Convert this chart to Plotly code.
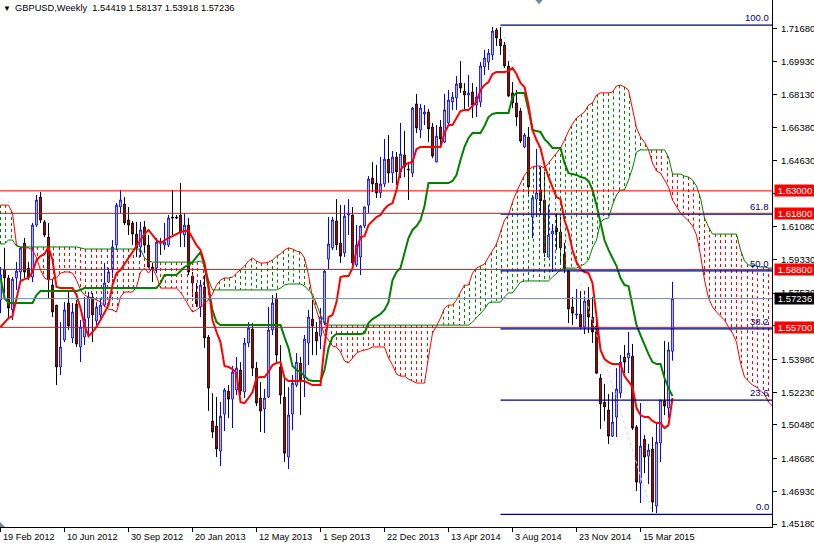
import numpy as np
import pandas as pd
import plotly.graph_objects as go

# weekly GBPUSD bars
opens = [1.5716, 1.5877, 1.5834, 1.5663, 1.5834, 1.5866, 1.6021, 1.5887, 1.5839, 1.6117,
         1.6267, 1.6133, 1.6053, 1.5796, 1.5689, 1.5358, 1.5502, 1.5700, 1.5513, 1.5695,
         1.5465, 1.5518, 1.5620, 1.5732, 1.5604, 1.5636, 1.5689, 1.5812, 1.5877, 1.6010,
         1.6214, 1.6230, 1.6144, 1.6128, 1.6069, 1.6000, 1.6107, 1.6010, 1.5893, 1.5887,
         1.6026, 1.6010, 1.6010, 1.6160, 1.6160, 1.6171, 1.6064, 1.6117, 1.5844, 1.5759,
         1.5679, 1.5786, 1.5518, 1.5069, 1.5042, 1.4908, 1.5106, 1.5229, 1.5186, 1.5235,
         1.5342, 1.5224, 1.5486, 1.5561, 1.5352, 1.5192, 1.5133, 1.5197, 1.5556, 1.5727,
         1.5358, 1.5197, 1.4876, 1.5106, 1.5261, 1.5379, 1.5299, 1.5486, 1.5614, 1.5545,
         1.5523, 1.5593, 1.5935, 1.5995, 1.6139, 1.6021, 1.5968, 1.6171, 1.6171, 1.5903,
         1.5946, 1.6112, 1.6224, 1.6369, 1.6342, 1.6289, 1.6337, 1.6470, 1.6395, 1.6481,
         1.6401, 1.6492, 1.6417, 1.6395, 1.6765, 1.6626, 1.6711, 1.6722, 1.6642, 1.6454,
         1.6642, 1.6561, 1.6663, 1.6775, 1.6797, 1.6877, 1.6834, 1.6813, 1.6829, 1.6759,
         1.6775, 1.6963, 1.6989, 1.7027, 1.7161, 1.7112, 1.7080, 1.6968, 1.6824, 1.6770,
         1.6727, 1.6535, 1.6588, 1.6160, 1.6256, 1.6305, 1.6251, 1.5946, 1.6069, 1.6101,
         1.6080, 1.5962, 1.5871, 1.5679, 1.5636, 1.5641, 1.5572, 1.5716, 1.5625, 1.5577,
         1.5299, 1.5170, 1.5128, 1.4988, 1.5090, 1.5218, 1.5411, 1.5406, 1.5416, 1.5037,
         1.4737, 1.4972, 1.4881, 1.4919, 1.4614, 1.4951, 1.5176, 1.5138, 1.54419]
highs = [1.5893, 1.5995, 1.5850, 1.5839, 1.5919, 1.6000, 1.6048, 1.5919, 1.6128, 1.6278,
         1.6294, 1.6144, 1.6128, 1.5828, 1.5689, 1.5598, 1.5705, 1.5770, 1.5700, 1.5716,
         1.5609, 1.5732, 1.5759, 1.5754, 1.5705, 1.5727, 1.5914, 1.5887, 1.6037, 1.6235,
         1.6305, 1.6267, 1.6214, 1.6139, 1.6133, 1.6133, 1.6139, 1.6064, 1.5914, 1.6048,
         1.6048, 1.6128, 1.6171, 1.6305, 1.6171, 1.6342, 1.6181, 1.6155, 1.5866, 1.5807,
         1.5823, 1.5850, 1.5529, 1.5218, 1.5197, 1.5170, 1.5245, 1.5261, 1.5363, 1.5411,
         1.5384, 1.5513, 1.5598, 1.5593, 1.5384, 1.5277, 1.5240, 1.5679, 1.5743, 1.5754,
         1.5475, 1.5293, 1.5250, 1.5315, 1.5432, 1.5411, 1.5529, 1.5663, 1.5716, 1.5598,
         1.5673, 1.5877, 1.6160, 1.6160, 1.6256, 1.6224, 1.6224, 1.6256, 1.6214, 1.6117,
         1.6117, 1.6214, 1.6379, 1.6454, 1.6438, 1.6481, 1.6577, 1.6599, 1.6513, 1.6508,
         1.6663, 1.6620, 1.6449, 1.6749, 1.6818, 1.6765, 1.6759, 1.6738, 1.6663, 1.6652,
         1.6679, 1.6818, 1.6840, 1.6829, 1.6914, 1.6995, 1.6877, 1.6920, 1.6877, 1.6856,
         1.6989, 1.7054, 1.7059, 1.7177, 1.7171, 1.7177, 1.7096, 1.6995, 1.6882, 1.6840,
         1.6743, 1.6609, 1.6642, 1.6278, 1.6524, 1.6428, 1.6401, 1.6224, 1.6123, 1.6181,
         1.6171, 1.6021, 1.5877, 1.5732, 1.5775, 1.5764, 1.5764, 1.5786, 1.5732, 1.5609,
         1.5320, 1.5267, 1.5213, 1.5224, 1.5352, 1.5422, 1.5475, 1.5545, 1.5481, 1.5047,
         1.5165, 1.4994, 1.4946, 1.4983, 1.5058, 1.5181, 1.5497, 1.5491, 1.58137]
lows = [1.5646, 1.5754, 1.5620, 1.5609, 1.5770, 1.5807, 1.5834, 1.5823, 1.5812, 1.6107,
        1.6128, 1.6053, 1.5727, 1.5625, 1.5261, 1.5315, 1.5491, 1.5556, 1.5486, 1.5465,
        1.5384, 1.5475, 1.5518, 1.5491, 1.5582, 1.5620, 1.5679, 1.5807, 1.5834, 1.5984,
        1.6181, 1.6117, 1.6064, 1.6010, 1.5946, 1.5946, 1.5968, 1.5887, 1.5812, 1.5860,
        1.5957, 1.5984, 1.6000, 1.6064, 1.6150, 1.6000, 1.6000, 1.5850, 1.5732, 1.5679,
        1.5625, 1.5459, 1.5122, 1.4978, 1.4876, 1.4828, 1.5015, 1.5085, 1.5031, 1.5208,
        1.5208, 1.5192, 1.5465, 1.5309, 1.5149, 1.5010, 1.5005, 1.5192, 1.5529, 1.5379,
        1.5160, 1.4849, 1.4812, 1.5021, 1.5250, 1.5101, 1.5197, 1.5368, 1.5422, 1.5422,
        1.5454, 1.5582, 1.5882, 1.5984, 1.5984, 1.5914, 1.5946, 1.6064, 1.5903, 1.5893,
        1.5850, 1.6101, 1.6181, 1.6294, 1.6262, 1.6262, 1.6321, 1.6342, 1.6342, 1.6331,
        1.6369, 1.6374, 1.6251, 1.6374, 1.6609, 1.6583, 1.6652, 1.6561, 1.6476, 1.6454,
        1.6545, 1.6556, 1.6652, 1.6733, 1.6733, 1.6824, 1.6733, 1.6749, 1.6690, 1.6695,
        1.6749, 1.6920, 1.6947, 1.7000, 1.7075, 1.7027, 1.6957, 1.6802, 1.6743, 1.6647,
        1.6556, 1.6529, 1.6267, 1.6048, 1.6160, 1.6171, 1.5946, 1.5946, 1.5866, 1.5984,
        1.5914, 1.5860, 1.5593, 1.5582, 1.5614, 1.5561, 1.5534, 1.5539, 1.5486, 1.5320,
        1.5026, 1.5069, 1.4946, 1.4983, 1.4983, 1.5192, 1.5325, 1.5325, 1.5021, 1.4694,
        1.4630, 1.4790, 1.4732, 1.4582, 1.4576, 1.4849, 1.5101, 1.5085, 1.53918]
closes = [1.5850, 1.5834, 1.5673, 1.5828, 1.5871, 1.5995, 1.5866, 1.5839, 1.6117, 1.6251,
          1.6144, 1.6064, 1.5828, 1.5652, 1.5358, 1.5465, 1.5663, 1.5577, 1.5652, 1.5481,
          1.5572, 1.5614, 1.5732, 1.5636, 1.5679, 1.5689, 1.5807, 1.5866, 1.6000, 1.6224,
          1.6251, 1.6128, 1.6117, 1.6069, 1.5995, 1.6091, 1.6010, 1.5893, 1.5882, 1.6026,
          1.6021, 1.6026, 1.6155, 1.6155, 1.6155, 1.6075, 1.6117, 1.5866, 1.5807, 1.5695,
          1.5796, 1.5513, 1.5245, 1.5010, 1.4919, 1.5095, 1.5235, 1.5186, 1.5331, 1.5352,
          1.5229, 1.5486, 1.5566, 1.5352, 1.5165, 1.5122, 1.5192, 1.5556, 1.5700, 1.5422,
          1.5208, 1.4897, 1.5101, 1.5272, 1.5384, 1.5288, 1.5507, 1.5625, 1.5577, 1.5497,
          1.5625, 1.5871, 1.6016, 1.6144, 1.6010, 1.5951, 1.6165, 1.6181, 1.5914, 1.6010,
          1.6112, 1.6214, 1.6363, 1.6337, 1.6289, 1.6337, 1.6470, 1.6395, 1.6481, 1.6401,
          1.6497, 1.6428, 1.6412, 1.6743, 1.6636, 1.6743, 1.6722, 1.6631, 1.6486, 1.6593,
          1.6577, 1.6733, 1.6786, 1.6802, 1.6872, 1.6850, 1.6813, 1.6824, 1.6759, 1.6802,
          1.6968, 1.7011, 1.7037, 1.7155, 1.7118, 1.7075, 1.6968, 1.6807, 1.6770, 1.6695,
          1.6567, 1.6599, 1.6321, 1.6262, 1.6289, 1.6246, 1.5968, 1.6064, 1.6085, 1.6080,
          1.5995, 1.5882, 1.5668, 1.5646, 1.5641, 1.5572, 1.5711, 1.5625, 1.5545, 1.5325,
          1.5160, 1.5144, 1.4988, 1.5063, 1.5240, 1.5384, 1.5384, 1.5432, 1.5031, 1.4742,
          1.4935, 1.4876, 1.4914, 1.4635, 1.4956, 1.5181, 1.5149, 1.5449, 1.57236]

tenkan = [1.5572, 1.5598, 1.5620, 1.5630, 1.5727, 1.5818, 1.5828, 1.5834, 1.5866, 1.5930,
          1.5951, 1.5962, 1.6000, 1.5930, 1.5786, 1.5780, 1.5780, 1.5780, 1.5780, 1.5743,
          1.5673, 1.5582, 1.5523, 1.5545, 1.5572, 1.5609, 1.5646, 1.5689, 1.5796, 1.5860,
          1.5877, 1.5909, 1.5941, 1.5968, 1.6000, 1.6037, 1.6069, 1.6091, 1.6064, 1.6037,
          1.6021, 1.6037, 1.6048, 1.6058, 1.6069, 1.6080, 1.6085, 1.6085, 1.6048, 1.6010,
          1.5984, 1.5914, 1.5796, 1.5609, 1.5545, 1.5491, 1.5363, 1.5358, 1.5347, 1.5325,
          1.5170, 1.5165, 1.5192, 1.5224, 1.5299, 1.5304, 1.5304, 1.5331, 1.5368, 1.5379,
          1.5384, 1.5299, 1.5283, 1.5283, 1.5283, 1.5283, 1.5283, 1.5272, 1.5261, 1.5261,
          1.5261, 1.5475, 1.5625, 1.5636, 1.5705, 1.5839, 1.5844, 1.5844, 1.5887, 1.5984,
          1.6053, 1.6058, 1.6117, 1.6139, 1.6160, 1.6171, 1.6203, 1.6224, 1.6235, 1.6305,
          1.6412, 1.6438, 1.6449, 1.6454, 1.6524, 1.6535, 1.6535, 1.6535, 1.6535, 1.6535,
          1.6535, 1.6609, 1.6652, 1.6652, 1.6690, 1.6727, 1.6733, 1.6733, 1.6754, 1.6775,
          1.6840, 1.6866, 1.6882, 1.6925, 1.6936, 1.6936, 1.6936, 1.6941, 1.6957, 1.6925,
          1.6877, 1.6856, 1.6759, 1.6626, 1.6572, 1.6529, 1.6438, 1.6374, 1.6321, 1.6267,
          1.6256, 1.6144, 1.6080, 1.5984, 1.5919, 1.5882, 1.5866, 1.5860, 1.5807, 1.5636,
          1.5449, 1.5400, 1.5384, 1.5374, 1.5374, 1.5374, 1.5309, 1.5277, 1.5251, 1.5138,
          1.5101, 1.5090, 1.5090, 1.5069, 1.5058, 1.5058, 1.5031, 1.5047, 1.5192]
kijun = [1.5839, 1.5727, 1.5700, 1.5700, 1.5700, 1.5700, 1.5700, 1.5700, 1.5700, 1.5743,
         1.5764, 1.5764, 1.5764, 1.5764, 1.5764, 1.5764, 1.5764, 1.5764, 1.5764, 1.5764,
         1.5770, 1.5780, 1.5780, 1.5780, 1.5780, 1.5780, 1.5780, 1.5780, 1.5780, 1.5780,
         1.5780, 1.5780, 1.5780, 1.5780, 1.5780, 1.5780, 1.5780, 1.5780, 1.5780, 1.5780,
         1.5807, 1.5850, 1.5850, 1.5850, 1.5850, 1.5871, 1.5893, 1.5903, 1.5919, 1.5946,
         1.5973, 1.5898, 1.5780, 1.5663, 1.5598, 1.5582, 1.5582, 1.5582, 1.5582, 1.5582,
         1.5582, 1.5582, 1.5582, 1.5582, 1.5582, 1.5582, 1.5582, 1.5582, 1.5582, 1.5582,
         1.5582, 1.5518, 1.5459, 1.5363, 1.5342, 1.5331, 1.5309, 1.5288, 1.5283, 1.5283,
         1.5283, 1.5342, 1.5459, 1.5518, 1.5534, 1.5534, 1.5534, 1.5534, 1.5534, 1.5534,
         1.5534, 1.5539, 1.5593, 1.5614, 1.5630, 1.5641, 1.5663, 1.5705, 1.5823, 1.5866,
         1.5887, 1.5973, 1.6048, 1.6091, 1.6112, 1.6144, 1.6219, 1.6342, 1.6342, 1.6342,
         1.6342, 1.6342, 1.6342, 1.6353, 1.6385, 1.6465, 1.6535, 1.6583, 1.6609, 1.6609,
         1.6609, 1.6647, 1.6695, 1.6711, 1.6716, 1.6716, 1.6716, 1.6716, 1.6802, 1.6824,
         1.6824, 1.6824, 1.6733, 1.6626, 1.6620, 1.6615, 1.6577, 1.6556, 1.6529, 1.6529,
         1.6529, 1.6449, 1.6395, 1.6390, 1.6385, 1.6374, 1.6369, 1.6353, 1.6305, 1.6224,
         1.6128, 1.6037, 1.5984, 1.5941, 1.5898, 1.5834, 1.5796, 1.5791, 1.5689, 1.5582,
         1.5529, 1.5475, 1.5427, 1.5384, 1.5374, 1.5374, 1.5299, 1.5245, 1.5202]
span_a = [1.6224, 1.6224, 1.6224, 1.6181, 1.6010, 1.6000, 1.5995, 1.5995, 1.5984, 1.5941,
          1.5877, 1.5834, 1.5823, 1.5828, 1.5834, 1.5860, 1.5866, 1.5866, 1.5860, 1.5823,
          1.5770, 1.5743, 1.5732, 1.5727, 1.5716, 1.5705, 1.5684, 1.5668, 1.5663, 1.5652,
          1.5732, 1.5759, 1.5759, 1.5759, 1.5786, 1.5866, 1.5887, 1.5860, 1.5887, 1.5844,
          1.5780, 1.5780, 1.5780, 1.5780, 1.5780, 1.5759, 1.5721, 1.5684, 1.5652, 1.5663,
          1.5679, 1.5695, 1.5716, 1.5748, 1.5796, 1.5823, 1.5834, 1.5834, 1.5839, 1.5860,
          1.5877, 1.5898, 1.5925, 1.5941, 1.5925, 1.5914, 1.5914, 1.5919, 1.5930, 1.5951,
          1.5962, 1.5984, 1.5995, 1.5989, 1.5978, 1.5973, 1.5941, 1.5850, 1.5727, 1.5663,
          1.5593, 1.5529, 1.5502, 1.5470, 1.5465, 1.5438, 1.5390, 1.5379, 1.5406, 1.5432,
          1.5443, 1.5449, 1.5454, 1.5465, 1.5465, 1.5465, 1.5465, 1.5406, 1.5368, 1.5320,
          1.5309, 1.5309, 1.5293, 1.5283, 1.5272, 1.5272, 1.5272, 1.5411, 1.5539, 1.5577,
          1.5620, 1.5673, 1.5689, 1.5689, 1.5716, 1.5759, 1.5796, 1.5796, 1.5860, 1.5887,
          1.5898, 1.5909, 1.5946, 1.5978, 1.6016, 1.6080, 1.6144, 1.6171, 1.6240, 1.6294,
          1.6342, 1.6385, 1.6412, 1.6428, 1.6433, 1.6433, 1.6422, 1.6449, 1.6481, 1.6502,
          1.6529, 1.6572, 1.6620, 1.6658, 1.6690, 1.6706, 1.6722, 1.6759, 1.6770, 1.6813,
          1.6824, 1.6824, 1.6824, 1.6829, 1.6861, 1.6866, 1.6856, 1.6840, 1.6733, 1.6636,
          1.6588, 1.6561, 1.6519, 1.6449, 1.6406, 1.6395, 1.6358, 1.6321, 1.6251, 1.6214,
          1.6181, 1.6160, 1.6139, 1.6112, 1.6064, 1.5957, 1.5823, 1.5727, 1.5679, 1.5652,
          1.5630, 1.5609, 1.5572, 1.5539, 1.5491, 1.5379, 1.5304, 1.5283, 1.5261, 1.5251,
          1.5229, 1.5213, 1.5170, 1.5149]
span_b = [1.6016, 1.6016, 1.6037, 1.6037, 1.6005, 1.6000, 1.6000, 1.6000, 1.6000, 1.6000,
          1.6000, 1.6000, 1.6000, 1.6000, 1.6000, 1.6000, 1.6000, 1.6000, 1.6000, 1.6000,
          1.5995, 1.5989, 1.5989, 1.5989, 1.5989, 1.5989, 1.5989, 1.5989, 1.5989, 1.5989,
          1.5989, 1.5989, 1.5989, 1.5989, 1.5989, 1.5989, 1.5941, 1.5925, 1.5919, 1.5919,
          1.5919, 1.5919, 1.5919, 1.5919, 1.5919, 1.5919, 1.5919, 1.5919, 1.5919, 1.5919,
          1.5925, 1.5903, 1.5823, 1.5770, 1.5770, 1.5770, 1.5770, 1.5770, 1.5770, 1.5770,
          1.5770, 1.5770, 1.5770, 1.5770, 1.5770, 1.5770, 1.5770, 1.5770, 1.5770, 1.5770,
          1.5780, 1.5796, 1.5802, 1.5802, 1.5802, 1.5802, 1.5791, 1.5770, 1.5748, 1.5695,
          1.5636, 1.5598, 1.5582, 1.5582, 1.5582, 1.5582, 1.5582, 1.5582, 1.5582, 1.5582,
          1.5582, 1.5582, 1.5582, 1.5582, 1.5582, 1.5582, 1.5582, 1.5582, 1.5582, 1.5582,
          1.5582, 1.5582, 1.5582, 1.5582, 1.5582, 1.5582, 1.5582, 1.5582, 1.5582, 1.5582,
          1.5582, 1.5582, 1.5582, 1.5582, 1.5582, 1.5582, 1.5582, 1.5582, 1.5598, 1.5620,
          1.5641, 1.5668, 1.5700, 1.5705, 1.5705, 1.5705, 1.5732, 1.5754, 1.5754, 1.5786,
          1.5812, 1.5818, 1.5818, 1.5818, 1.5818, 1.5818, 1.5818, 1.5818, 1.5839, 1.5860,
          1.5877, 1.5887, 1.5887, 1.5887, 1.5887, 1.5898, 1.5909, 1.5930, 1.5995, 1.6037,
          1.6133, 1.6149, 1.6155, 1.6224, 1.6278, 1.6305, 1.6305, 1.6358, 1.6422, 1.6508,
          1.6519, 1.6519, 1.6519, 1.6519, 1.6519, 1.6519, 1.6519, 1.6481, 1.6390, 1.6390,
          1.6390, 1.6379, 1.6374, 1.6358, 1.6326, 1.6262, 1.6155, 1.6107, 1.6069, 1.6069,
          1.6069, 1.6069, 1.6069, 1.6069, 1.6069, 1.5984, 1.5925, 1.5903, 1.5903, 1.5898,
          1.5893, 1.5893, 1.5887, 1.5887]

axis_prices = [1.7168, 1.6993, 1.6813, 1.6638, 1.6463, 1.6288, 1.6108, 1.5933, 1.5753,
               1.5578, 1.5398, 1.5223, 1.5048, 1.4868, 1.4693, 1.4518]
support_levels = [1.6300, 1.6180, 1.5880, 1.5570]
last_price = 1.57236
fib_names = ["100.0", "61.8", "50.0", "38.2", "23.6", "0.0"]
fib_prices = [1.7187, 1.6175, 1.5872, 1.5562, 1.5181, 1.4569]
date_labels = ["19 Feb 2012", "10 Jun 2012", "30 Sep 2012", "20 Jan 2013", "12 May 2013",
               "1 Sep 2013", "22 Dec 2013", "13 Apr 2014", "3 Aug 2014", "23 Nov 2014",
               "15 Mar 2015"]

FONT = "Liberation Sans"
NAVY = "#000080"
PX_PER_BAR = 4
week = pd.Timedelta(days=7)
dates = pd.date_range("2012-02-19", periods=len(span_a), freq="7D")
tick_dates = pd.to_datetime(date_labels, format="%d %b %Y")
fib_start = dates[125]
fib_end = dates[163]


def hatch(wanted_above):
    # dashed columns between the spans, about 16/3 px apart like the terminal draws them
    xs, ys = [], []
    bars = np.arange(len(span_a))
    for k in range(146):
        bar = round(k * 16 / 3) / PX_PER_BAR
        a = float(np.interp(bar, bars, span_a))
        b = float(np.interp(bar, bars, span_b))
        if (a > b) == wanted_above:
            day = dates[0] + week * bar
            xs += [day, day, None]
            ys += [max(a, b), min(a, b), None]
    return xs, ys


fig = go.Figure()

for colour, above in (("#008000", True), ("#ff0000", False)):
    hx, hy = hatch(above)
    fig.add_trace(go.Scatter(x=hx, y=hy, mode="lines", hoverinfo="skip",
                             line={"color": colour, "width": 1, "dash": "3px,3px"}))

fig.add_trace(go.Scatter(x=dates, y=span_a, mode="lines", line={"color": "#ff0000", "width": 1}))
fig.add_trace(go.Scatter(x=dates, y=span_b, mode="lines", line={"color": "#008000", "width": 1}))
fig.add_trace(go.Scatter(x=[fib_start, fib_end], y=[fib_prices[0], fib_prices[-1]], mode="lines",
                         line={"color": "#e8d2dc", "width": 1, "dash": "dot"}))

fig.add_trace(go.Candlestick(
    x=dates[:len(opens)], open=opens, high=highs, low=lows, close=closes,
    whiskerwidth=0,
    increasing={"line": {"color": "#0000ff", "width": 1}, "fillcolor": "#ffffff"},
    decreasing={"line": {"color": "#000000", "width": 1}, "fillcolor": "#ff0000"},
))

fig.add_trace(go.Scatter(x=dates[:len(kijun)], y=kijun, mode="lines", line={"color": "#008000", "width": 2}))
fig.add_trace(go.Scatter(x=dates[:len(tenkan)], y=tenkan, mode="lines", line={"color": "#ff0000", "width": 2}))

# fibonacci levels, then the hand drawn price lines on top
for price in fib_prices:
    fig.add_shape(type="line", xref="x", yref="y", x0=fib_start, x1=dates[-1] + week, y0=price, y1=price,
                  line={"color": NAVY, "width": 1.2})
for price in support_levels:
    fig.add_shape(type="line", xref="paper", yref="y", x0=0, x1=1, y0=price, y1=price,
                  line={"color": "#ff0000", "width": 1})
fig.add_shape(type="line", xref="paper", yref="y", x0=0, x1=1, y0=last_price, y1=last_price,
              line={"color": "#778899", "width": 1})

# little grey chart markers
fig.add_shape(type="path", xref="paper", yref="paper", fillcolor="#778899", line={"width": 0},
              path="M 0.6935 1 L 0.7030 1 L 0.6983 0.992 Z")
fig.add_shape(type="path", xref="paper", yref="paper", fillcolor="#778899", line={"width": 0},
              path="M 0 0 L 0.0065 0 L 0 0.0095 Z")

annotations = []
for name, price in zip(fib_names, fib_prices):
    annotations.append({"x": 1, "xref": "paper", "y": price, "yref": "y", "text": name, "showarrow": False,
                        "xanchor": "right", "yanchor": "bottom", "xshift": -1, "yshift": 0,
                        "font": {"family": FONT, "size": 9.5, "color": NAVY}})
for price in support_levels + [last_price]:
    text = f"{price:.5f}"
    annotations.append({"x": 1, "xref": "paper", "y": price, "yref": "y", "text": text, "showarrow": False,
                        "xanchor": "left", "yanchor": "middle", "xshift": 2, "width": 40, "height": 11,
                        "borderpad": 0, "bgcolor": "#000000" if price == last_price else "#ff0000",
                        "font": {"family": FONT, "size": 9.5, "color": "#ffffff"}})
for day, text in zip(tick_dates, date_labels):
    annotations.append({"x": day, "xref": "x", "y": 0, "yref": "paper", "text": text, "showarrow": False,
                        "xanchor": "left", "yanchor": "top", "xshift": 0, "yshift": -3,
                        "font": {"family": FONT, "size": 9.2, "color": "#000000"}})
annotations.append({"x": 0, "xref": "paper", "y": 1, "yref": "paper", "showarrow": False,
                    "xanchor": "left", "yanchor": "top", "xshift": 1, "yshift": -2, "text": "▼",
                    "font": {"family": FONT, "size": 8, "color": "#000000"}})
annotations.append({"x": 0, "xref": "paper", "y": 1, "yref": "paper", "showarrow": False,
                    "xanchor": "left", "yanchor": "top", "xshift": 13, "yshift": -1,
                    "text": "GBPUSD,Weekly  1.54419 1.58137 1.53918 1.57236",
                    "font": {"family": FONT, "size": 9.3, "color": "#000000"}})

fig.update_layout(
    width=814,
    height=543,
    margin={"l": 0, "r": 42, "t": 0, "b": 16},
    paper_bgcolor="#ffffff",
    plot_bgcolor="#ffffff",
    showlegend=False,
    boxgap=0.4,
    annotations=annotations,
    font={"family": FONT, "size": 9.5, "color": "#000000"},
    xaxis={
        "type": "date",
        "range": [dates[0] - week / 8, dates[0] + week * 771.5 / PX_PER_BAR],
        "rangeslider": {"visible": False},
        "tickvals": list(tick_dates),
        "ticktext": [""] * len(tick_dates),
        "ticks": "outside",
        "ticklen": 4,
        "tickcolor": "#000000",
        "showline": True,
        "linecolor": "#000000",
        "linewidth": 1,
        "showgrid": False,
        "zeroline": False,
    },
    yaxis={
        "side": "right",
        "range": [1.4502, 1.7321],
        "tickvals": axis_prices,
        "ticktext": [f"{p:.5f}" for p in axis_prices],
        "ticks": "outside",
        "ticklen": 4,
        "ticklabelstandoff": 2,
        "tickcolor": "#000000",
        "showline": True,
        "linecolor": "#000000",
        "linewidth": 1,
        "showgrid": False,
        "zeroline": False,
        "tickfont": {"family": FONT, "size": 9.5, "color": "#000000"},
    },
)

fig.write_html("out.html", config={"displayModeBar": False},
               post_script="document.body.style.margin='0';")
